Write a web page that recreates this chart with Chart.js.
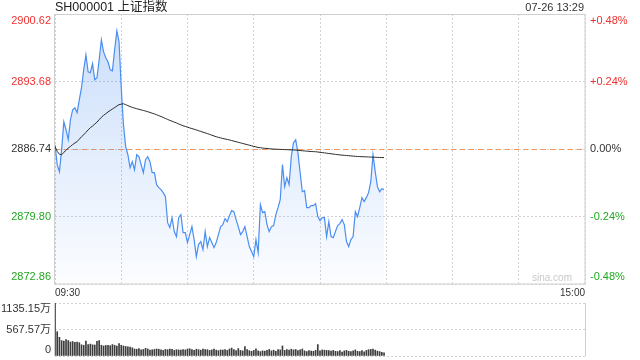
<!DOCTYPE html>
<html><head><meta charset="utf-8">
<script src="https://cdn.jsdelivr.net/npm/chart.js@4.4.0/dist/chart.umd.min.js"></script>
<style>
html,body{margin:0;padding:0;background:#fff;width:640px;height:360px;overflow:hidden;font-family:"Liberation Sans",Arial,"Noto Sans CJK SC",sans-serif;}
#wrap{position:relative;width:640px;height:360px;}
#title{position:absolute;left:55px;top:0px;font-size:12.5px;color:#222;line-height:14px;white-space:nowrap;}
#time{position:absolute;right:56px;top:1px;font-size:11px;color:#333;line-height:13px;white-space:nowrap;}
#c1{position:absolute;left:0;top:0;}
#c2{position:absolute;left:0;top:298px;}
#wm{position:absolute;left:532px;top:272px;font-size:10px;color:#c8c8c8;line-height:12px;}
</style></head>
<body><div id="wrap">
<canvas id="c1" width="640" height="298"></canvas>
<canvas id="c2" width="640" height="62"></canvas>
<div id="title">SH000001 上证指数</div>
<div id="time">07-26 13:29</div>
<div id="wm">sina.com</div>
</div>
<script>
const PREV_CLOSE = 2886.74;
const priceTicks = [2872.86, 2879.80, 2886.74, 2893.68, 2900.62];
const priceTickLabels = ['2872.86', '2879.80', '2886.74', '2893.68', '2900.62'];
const pctTickLabels = ['-0.48%', '-0.24%', '0.00%', '+0.24%', '+0.48%'];
const tickColors = ['#22a822', '#22a822', '#333333', '#f03030', '#f03030'];
const volTicks = [0, 567.57, 1135.15];
const volTickLabels = ['0', '567.57万', '1135.15万'];
const timeLabels = ['09:30', '15:00'];
const totalMinutes = 240;

const prices = [
2887.18,2885.13,2884.41,2886.67,2889.54,2888.72,2887.70,2889.75,2890.78,2890.98,
2890.47,2891.80,2893.04,2894.88,2896.42,2894.68,2894.58,2895.50,2893.86,2894.06,
2895.91,2897.97,2896.73,2896.12,2895.71,2894.88,2894.78,2896.94,2898.89,2897.76,
2893.04,2889.24,2886.98,2886.15,2884.82,2885.44,2884.61,2886.15,2885.95,2885.13,
2884.31,2885.64,2885.95,2885.44,2884.31,2884.31,2883.07,2882.77,2882.56,2882.25,
2881.84,2879.17,2878.66,2879.68,2878.25,2877.73,2879.68,2879.99,2878.14,2878.14,
2877.12,2877.94,2878.76,2877.43,2875.68,2876.91,2877.22,2876.40,2878.25,2876.71,
2877.63,2877.12,2876.60,2877.12,2877.94,2878.76,2878.97,2879.58,2879.27,2879.89,
2880.40,2880.30,2879.48,2878.76,2877.94,2878.25,2878.76,2877.73,2876.71,2876.19,
2875.68,2877.43,2876.09,2881.02,2880.20,2880.30,2878.97,2878.25,2878.76,2878.86,
2879.99,2880.71,2881.53,2885.13,2882.87,2883.79,2883.07,2885.95,2887.39,2887.70,
2886.36,2884.31,2882.35,2882.46,2880.71,2880.71,2880.92,2880.92,2881.12,2879.79,
2879.38,2879.68,2879.68,2877.73,2879.27,2877.73,2877.63,2878.25,2878.86,2879.07,
2879.48,2878.97,2877.22,2876.71,2877.43,2877.73,2880.30,2879.79,2880.71,2881.74,
2881.33,2881.74,2882.25,2883.38,2886.15,2884.41,2882.87,2882.35,2882.66,2882.56
];

const avgPrices = [
2887.00,2886.50,2886.20,2886.15,2886.40,2886.60,2886.85,2887.00,2887.20,2887.35,
2887.50,2887.75,2888.00,2888.20,2888.45,2888.70,2888.93,2889.10,2889.30,2889.50,
2889.75,2890.00,2890.20,2890.37,2890.55,2890.70,2890.85,2891.00,2891.15,2891.30,
2891.35,2891.39,2891.30,2891.20,2891.10,2891.02,2890.95,2890.88,2890.82,2890.76,
2890.70,2890.64,2890.57,2890.50,2890.42,2890.35,2890.26,2890.17,2890.08,2889.98,
2889.88,2889.78,2889.68,2889.60,2889.50,2889.42,2889.32,2889.22,2889.13,2889.06,
2888.98,2888.91,2888.84,2888.77,2888.70,2888.62,2888.55,2888.47,2888.40,2888.32,
2888.25,2888.16,2888.08,2888.00,2887.94,2887.88,2887.82,2887.77,2887.72,2887.67,
2887.61,2887.55,2887.49,2887.43,2887.37,2887.31,2887.25,2887.19,2887.13,2887.07,
2887.01,2886.95,2886.90,2886.87,2886.84,2886.81,2886.79,2886.77,2886.75,2886.73,
2886.72,2886.71,2886.70,2886.69,2886.68,2886.67,2886.66,2886.65,2886.64,2886.63,
2886.61,2886.58,2886.56,2886.54,2886.52,2886.50,2886.48,2886.47,2886.46,2886.43,
2886.40,2886.37,2886.34,2886.31,2886.28,2886.25,2886.22,2886.19,2886.16,2886.13,
2886.11,2886.09,2886.07,2886.05,2886.03,2886.01,2885.99,2885.97,2885.96,2885.95,
2885.94,2885.93,2885.92,2885.91,2885.90,2885.89,2885.88,2885.87,2885.86,2885.85
];

const volumes = [
1135.15,520,400,330,320,350,330,300,310,295,
300,285,240,230,320,245,255,240,235,315,
330,230,215,225,230,220,245,230,215,265,
230,215,205,195,190,175,150,145,160,130,
140,165,150,125,130,140,150,145,130,120,
140,135,150,145,120,135,130,125,140,130,
150,155,140,120,145,135,125,150,140,135,
120,130,150,125,115,130,125,140,120,150,
170,135,115,160,120,110,200,140,115,100,
120,155,110,95,110,105,120,140,110,125,
100,140,130,215,120,140,125,145,130,140,
115,130,150,110,95,115,105,100,120,245,
110,130,125,120,115,105,120,100,95,115,
85,110,120,100,95,110,130,100,95,115,
90,120,135,140,150,125,105,95,80,70
];

const FONT = "'Liberation Sans', Arial, 'Noto Sans CJK SC', sans-serif";
Chart.defaults.font.family = FONT;

function insetLabelPlugin(specs) {
  return {
    id: 'insetLabels',
    afterDraw(chart) {
      const ctx = chart.ctx, area = chart.chartArea;
      ctx.save();
      specs.forEach(s => {
        const scale = chart.scales[s.axis];
        ctx.font = s.font;
        ctx.textBaseline = 'middle';
        ctx.textAlign = s.side === 'left' ? 'right' : 'left';
        const x = s.side === 'left' ? area.left - 4 : area.right + 5;
        s.values.forEach((v, k) => {
          let y = scale.getPixelForValue(v);
          y = Math.max(area.top + s.inset, Math.min(area.bottom - s.inset, y));
          ctx.fillStyle = s.colors[k];
          ctx.fillText(s.labels[k], x, y);
        });
      });
      ctx.restore();
    }
  };
}

const framePlugin = {
  id: 'frame',
  beforeDatasetsDraw(chart) {
    const ctx = chart.ctx, a = chart.chartArea;
    const y = Math.round(chart.scales.y.getPixelForValue(PREV_CLOSE)) + 0.5;
    ctx.save();
    ctx.strokeStyle = '#f5955a';
    ctx.lineWidth = 1;
    ctx.setLineDash([5, 4]);
    ctx.beginPath(); ctx.moveTo(a.left, y); ctx.lineTo(a.right, y); ctx.stroke();
    ctx.restore();
  },
  afterDraw(chart) {
    const ctx = chart.ctx, a = chart.chartArea;
    ctx.save();
    ctx.strokeStyle = '#cfcfcf';
    ctx.lineWidth = 1;
    ctx.strokeRect(Math.round(a.left) - 0.5, Math.round(a.top) + 0.5, Math.round(a.right - a.left) + 0.5, Math.round(a.bottom - a.top) - 0.5);
    ctx.restore();
  }
};

const fixW = w => (scale) => { scale.width = w; };

new Chart(document.getElementById('c1'), {
  type: 'line',
  data: {
    datasets: [
      {
        label: '均价',
        data: avgPrices.map((v, i) => ({x: i, y: v})),
        borderColor: '#2b2b2b',
        borderWidth: 1,
        pointRadius: 0,
        tension: 0,
        fill: false,
        order: 0
      },
      {
        label: '价格',
        data: prices.map((v, i) => ({x: i, y: v})),
        borderColor: '#4b8ef2',
        borderWidth: 1.2,
        pointRadius: 0,
        tension: 0,
        fill: 'start',
        order: 1,
        backgroundColor: (c) => {
          const ch = c.chart, a = ch.chartArea;
          if (!a) return 'rgba(75,142,242,0.15)';
          const g = ch.ctx.createLinearGradient(0, a.top, 0, a.bottom);
          g.addColorStop(0, 'rgba(75,142,242,0.30)');
          g.addColorStop(1, 'rgba(75,142,242,0.02)');
          return g;
        }
      }
    ]
  },
  options: {
    responsive: false,
    animation: false,
    layout: {padding: {top: 14, left: 0, right: 0, bottom: 0}},
    plugins: {legend: {display: false}, tooltip: {enabled: false}},
    scales: {
      x: {
        type: 'linear', min: 0, max: totalMinutes,
        afterFit: (s) => { s.height = 14; },
        ticks: {
          stepSize: 30, autoSkip: false, maxRotation: 0, align: 'inner', padding: 3,
          color: '#333', font: {size: 10},
          callback: (v) => v === 0 ? timeLabels[0] : (v === totalMinutes ? timeLabels[1] : '')
        },
        grid: {color: '#d2d2d2', drawTicks: false},
        border: {display: false, dash: [2, 2]}
      },
      y: {
        position: 'left', min: priceTicks[0], max: priceTicks[priceTicks.length - 1],
        afterBuildTicks: (s) => { s.ticks = priceTicks.map(v => ({value: v})); },
        afterFit: fixW(55),
        ticks: {display: false},
        grid: {color: '#d2d2d2', drawTicks: false},
        border: {display: false, dash: [2, 2]}
      },
      y2: {
        position: 'right', min: priceTicks[0], max: priceTicks[priceTicks.length - 1],
        afterBuildTicks: (s) => { s.ticks = priceTicks.map(v => ({value: v})); },
        afterFit: fixW(55),
        ticks: {display: false},
        grid: {display: false},
        border: {display: false}
      }
    }
  },
  plugins: [framePlugin, insetLabelPlugin([
    {axis: 'y', side: 'left', values: priceTicks, labels: priceTickLabels, colors: tickColors, inset: 7, font: "11px " + FONT},
    {axis: 'y2', side: 'right', values: priceTicks, labels: pctTickLabels, colors: tickColors, inset: 7, font: "11px " + FONT}
  ])]
});

const volFrame = {
  id: 'volFrame',
  afterDraw(chart) {
    const ctx = chart.ctx, a = chart.chartArea;
    ctx.save();
    ctx.strokeStyle = '#cfcfcf';
    ctx.lineWidth = 1;
    ctx.beginPath();
    ctx.moveTo(Math.round(a.left) - 0.5, a.top); ctx.lineTo(Math.round(a.left) - 0.5, a.bottom);
    ctx.moveTo(Math.round(a.right) + 0.5, a.top); ctx.lineTo(Math.round(a.right) + 0.5, a.bottom);
    ctx.stroke();
    ctx.restore();
  }
};

new Chart(document.getElementById('c2'), {
  type: 'bar',
  data: {
    datasets: [{
      label: '成交量',
      data: volumes.map((v, i) => ({x: i, y: v})),
      backgroundColor: '#3c3c3c',
      barThickness: 1,
      borderWidth: 0
    }]
  },
  options: {
    responsive: false,
    animation: false,
    layout: {padding: {top: 5, left: 0, right: 55, bottom: 4}},
    plugins: {legend: {display: false}, tooltip: {enabled: false}},
    scales: {
      x: {type: 'linear', min: 0, max: totalMinutes, offset: false, display: false},
      y: {
        min: 0, max: volTicks[volTicks.length - 1],
        afterBuildTicks: (s) => { s.ticks = volTicks.map(v => ({value: v})); },
        afterFit: fixW(55),
        ticks: {display: false},
        grid: {color: '#d2d2d2', drawTicks: false},
        border: {display: false, dash: [2, 2]}
      }
    }
  },
  plugins: [volFrame, insetLabelPlugin([
    {axis: 'y', side: 'left', values: volTicks, labels: volTickLabels, colors: ['#333', '#333', '#333'], inset: 6, font: "11px " + FONT}
  ])]
});
</script>
</body></html>
